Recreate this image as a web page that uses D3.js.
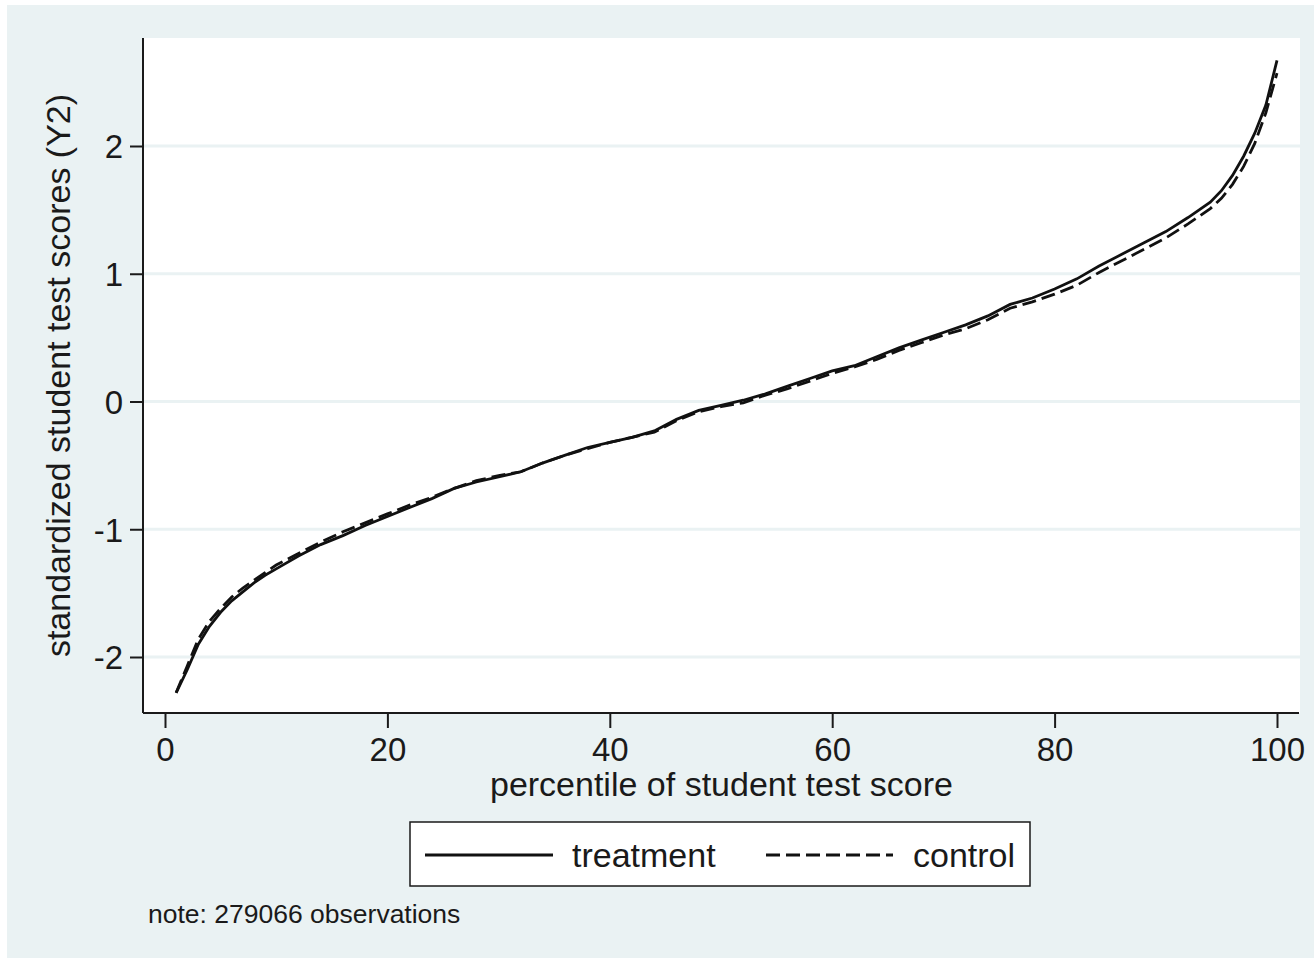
<!DOCTYPE html>
<html>
<meta charset="utf-8" />
<style>
  body { margin: 0; background: #fff; }
  text { font-family: "Liberation Sans", Arial, sans-serif; fill: #1a1a1a; }
</style>
<svg width="1314" height="958"></svg>
<script src="https://d3js.org/d3.v7.min.js"></script>
<script>
  const percentiles = [1, 2, 3, 4, 5, 6, 7, 8, 9, 10, 12, 14, 16, 18, 20, 22, 24, 26, 28, 30,
    32, 34, 36, 38, 40, 42, 44, 46, 48, 50, 52, 54, 56, 58, 60, 62, 64, 66, 68, 70,
    72, 74, 76, 78, 80, 82, 84, 86, 88, 90, 92, 94, 95, 96, 97, 98, 99, 100];

  const treatment = [-2.28, -2.10, -1.90, -1.76, -1.65, -1.56, -1.49, -1.42, -1.36, -1.31,
    -1.21, -1.12, -1.05, -0.97, -0.90, -0.83, -0.76, -0.68, -0.63, -0.59,
    -0.55, -0.48, -0.42, -0.36, -0.32, -0.28, -0.23, -0.14, -0.07, -0.03,
    0.01, 0.06, 0.12, 0.18, 0.24, 0.28, 0.35, 0.42, 0.48, 0.54,
    0.60, 0.67, 0.76, 0.81, 0.88, 0.96, 1.06, 1.15, 1.24, 1.33,
    1.44, 1.56, 1.65, 1.77, 1.92, 2.10, 2.32, 2.67];

  const control = [-2.28, -2.07, -1.86, -1.72, -1.62, -1.53, -1.46, -1.40, -1.34, -1.28,
    -1.19, -1.10, -1.02, -0.95, -0.88, -0.81, -0.75, -0.68, -0.62, -0.58,
    -0.55, -0.48, -0.42, -0.37, -0.32, -0.28, -0.24, -0.15, -0.08, -0.04,
    -0.01, 0.05, 0.10, 0.16, 0.22, 0.27, 0.33, 0.40, 0.46, 0.52,
    0.57, 0.64, 0.73, 0.78, 0.84, 0.91, 1.01, 1.10, 1.19, 1.28,
    1.39, 1.51, 1.59, 1.70, 1.84, 2.02, 2.26, 2.57];

  const xTicks = [0, 20, 40, 60, 80, 100];
  const yTicks = [-2, -1, 0, 1, 2];
  const seriesNames = ["treatment", "control"];

  const bg = "#eaf2f3";
  const svg = d3.select("svg");

  // outer graph region
  svg.append("rect").attr("x", 7).attr("y", 5).attr("width", 1307).attr("height", 953).attr("fill", bg);

  const plot = { left: 143, right: 1300, top: 38, bottom: 713 };
  svg.append("rect")
    .attr("x", plot.left).attr("y", plot.top)
    .attr("width", plot.right - plot.left).attr("height", plot.bottom - plot.top)
    .attr("fill", "#fff");

  const x = d3.scaleLinear().domain([0, 100]).range([165, 1277]);
  const y = d3.scaleLinear().domain([-2, 2]).range([657, 146]);

  // gridlines
  svg.append("g").selectAll("line").data(yTicks).join("line")
    .attr("x1", plot.left).attr("x2", plot.right)
    .attr("y1", d => y(d)).attr("y2", d => y(d))
    .attr("stroke", bg).attr("stroke-width", 3);

  // axes
  const fmt = d => String(d);
  const xAxis = svg.append("g").attr("transform", `translate(0,${plot.bottom})`)
    .call(d3.axisBottom(x).tickValues(xTicks).tickFormat(fmt).tickSize(15).tickPadding(6).tickSizeOuter(0));
  xAxis.select(".domain").attr("d", `M${plot.left},0H${plot.right - 1}`);

  const yAxis = svg.append("g").attr("transform", `translate(${plot.left},0)`)
    .call(d3.axisLeft(y).tickValues(yTicks).tickFormat(fmt).tickSize(13).tickPadding(7).tickSizeOuter(0));
  yAxis.select(".domain").attr("d", `M0,${plot.top}V${plot.bottom}`);

  svg.selectAll(".domain, .tick line").attr("stroke", "#1a1a1a").attr("stroke-width", 2);
  svg.selectAll(".tick text").attr("font-size", 33).attr("font-family", null).attr("fill", null);
  xAxis.selectAll(".tick text").attr("dy", "0.83em");
  yAxis.selectAll(".tick text").attr("dy", "0.36em");

  // axis titles
  svg.append("text").attr("x", (plot.left + plot.right) / 2).attr("y", 796)
    .attr("text-anchor", "middle").attr("font-size", 34)
    .text("percentile of student test score");
  svg.append("text")
    .attr("transform", `translate(70,${(plot.top + plot.bottom) / 2}) rotate(-90)`)
    .attr("text-anchor", "middle").attr("font-size", 34)
    .text("standardized student test scores (Y2)");

  // curves
  const line = d3.line().x(d => x(d[0])).y(d => y(d[1]));
  const series = [
    { name: seriesNames[0], values: treatment, dash: null },
    { name: seriesNames[1], values: control, dash: "14,6" }
  ];
  svg.append("g").selectAll("path").data(series).join("path")
    .attr("d", s => line(percentiles.map((p, i) => [p, s.values[i]])))
    .attr("fill", "none").attr("stroke", "#111").attr("stroke-width", 2.8)
    .attr("stroke-dasharray", s => s.dash);

  // legend
  const lg = svg.append("g");
  lg.append("rect").attr("x", 410).attr("y", 822).attr("width", 620).attr("height", 64)
    .attr("fill", "#fff").attr("stroke", "#1a1a1a").attr("stroke-width", 1.5);
  const items = [{ x1: 425, x2: 553, tx: 572 }, { x1: 766, x2: 893, tx: 913 }];
  items.forEach((it, i) => {
    lg.append("line").attr("x1", it.x1).attr("x2", it.x2).attr("y1", 855).attr("y2", 855)
      .attr("stroke", "#111").attr("stroke-width", 2.8)
      .attr("stroke-dasharray", series[i].dash);
    lg.append("text").attr("x", it.tx).attr("y", 867).attr("font-size", 34).text(series[i].name);
  });

  // note
  svg.append("text").attr("x", 148).attr("y", 923).attr("font-size", 26.5)
    .text("note: 279066 observations");
</script>
</html>
